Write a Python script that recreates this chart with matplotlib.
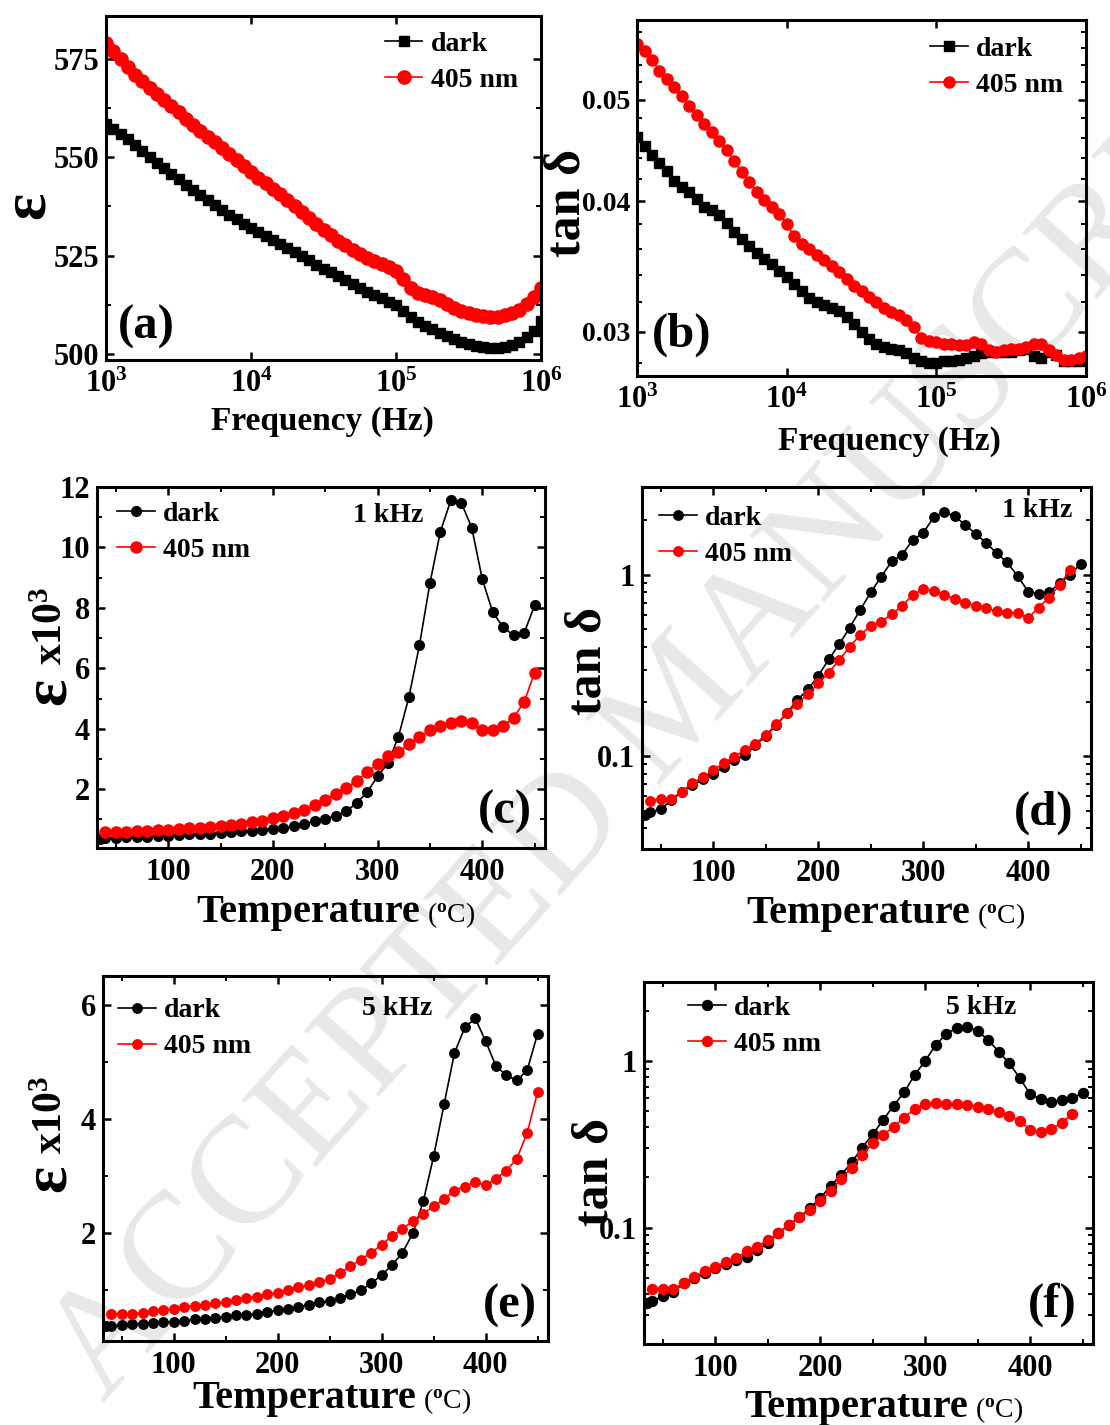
import numpy as np
import matplotlib
matplotlib.use('Agg')
import matplotlib.pyplot as plt
from matplotlib.ticker import FixedLocator, NullFormatter, NullLocator, MultipleLocator, LogLocator

plt.rcParams['font.family'] = ['Liberation Serif', 'DejaVu Serif']
plt.rcParams['font.weight'] = 'bold'
plt.rcParams['mathtext.fontset'] = 'custom'
plt.rcParams['mathtext.rm'] = 'Liberation Serif:bold'
plt.rcParams['mathtext.bf'] = 'Liberation Serif:bold'
plt.rcParams['mathtext.it'] = 'Liberation Serif:bold:italic'

# ---- frequency sweep (a), (b): 10^3 .. 10^6 Hz, 20 points per decade
log_f = np.round(np.arange(3.0, 6.0001, 0.05), 2)
freq = 10 ** log_f

eps_f_dark = [558.5, 557.2, 555.8, 554.5, 553.1, 551.6, 550.1, 548.6, 547.2, 545.8,
              544.4, 543.0, 541.6, 540.3, 539.0, 537.8, 536.6, 535.4, 534.2, 533.1,
              532.0, 531.0, 530.0, 528.9, 527.9, 526.9, 525.9, 524.8, 523.8, 522.7,
              521.7, 520.7, 519.7, 518.7, 517.7, 516.7, 515.7, 514.9, 514.1, 513.3,
              512.4, 511.0, 509.4, 508.2, 507.2, 506.3, 505.4, 504.6, 503.8, 503.1,
              502.5, 502.0, 501.7, 501.5, 501.5, 501.8, 502.3, 503.1, 504.2, 505.8, 508.5]
eps_f_405 = [579.0, 576.8, 574.8, 572.8, 570.9, 569.2, 567.6, 566.0, 564.4, 562.9,
             561.3, 559.7, 558.2, 556.7, 555.2, 553.7, 552.2, 550.8, 549.3, 547.8,
             546.3, 544.8, 543.3, 541.9, 540.5, 539.1, 537.6, 536.1, 534.6, 533.1,
             531.6, 530.2, 528.8, 527.6, 526.5, 525.5, 524.5, 523.6, 522.8, 522.0,
             521.0, 519.0, 516.8, 515.6, 514.9, 514.4, 513.6, 512.6, 511.6, 510.8,
             510.3, 510.0, 509.7, 509.5, 509.5, 509.9, 510.4, 511.2, 512.6, 514.4, 516.8]
tan_f_dark = [0.0461, 0.0452, 0.0443, 0.0435, 0.0427, 0.0418, 0.0413, 0.0408, 0.0402, 0.0395,
              0.0392, 0.0388, 0.0381, 0.0374, 0.0368, 0.0362, 0.0357, 0.0352, 0.0348, 0.0343,
              0.0338, 0.0333, 0.0328, 0.0323, 0.0320, 0.0318, 0.0316, 0.0314, 0.0310, 0.0305,
              0.0300, 0.0295, 0.0292, 0.0290, 0.0289, 0.0288, 0.0286, 0.0283, 0.0281, 0.0280,
              0.0280, 0.0281, 0.0281, 0.0282, 0.0283, 0.0284, 0.0286, 0.0287, 0.0287, 0.0287,
              0.0287, 0.0288, 0.0289, 0.0284, 0.0283, 0.0287, 0.0285, 0.0281, 0.0281, 0.0281, 0.0282]
tan_f_405 = [0.0566, 0.0557, 0.0546, 0.0533, 0.0523, 0.0514, 0.0504, 0.0493, 0.0483, 0.0474,
             0.0466, 0.0457, 0.0448, 0.0437, 0.0426, 0.0417, 0.0408, 0.0401, 0.0395, 0.0389,
             0.0380, 0.0370, 0.0364, 0.0360, 0.0355, 0.0351, 0.0347, 0.0342, 0.0337, 0.0332,
             0.0328, 0.0324, 0.0320, 0.0316, 0.0313, 0.0311, 0.0308, 0.0303, 0.0296, 0.0294,
             0.0293, 0.0292, 0.0292, 0.0291, 0.0291, 0.0293, 0.0292, 0.0288, 0.0287, 0.0288,
             0.0289, 0.0289, 0.0290, 0.0292, 0.0292, 0.0288, 0.0285, 0.0282, 0.0282, 0.0283, 0.0284]

# ---- temperature runs (c)-(f)
T_dark = [35] + list(range(40, 451, 10))
T_405 = list(range(40, 451, 10))
T_405_short = list(range(40, 441, 10))

eps_1k_dark = [0.36, 0.38, 0.39, 0.40, 0.42, 0.43, 0.45, 0.46, 0.48, 0.50, 0.51, 0.53, 0.55,
               0.57, 0.60, 0.62, 0.65, 0.68, 0.72, 0.78, 0.86, 0.93, 1.01, 1.12, 1.26, 1.54,
               1.89, 2.42, 2.86, 3.74, 5.05, 6.76, 8.81, 10.52, 11.56, 11.48, 10.66, 8.96,
               7.86, 7.36, 7.09, 7.16, 8.08]
eps_1k_405 = [0.57, 0.58, 0.59, 0.60, 0.62, 0.64, 0.66, 0.68, 0.70, 0.72, 0.75, 0.78, 0.81,
              0.85, 0.90, 0.96, 1.03, 1.10, 1.20, 1.32, 1.46, 1.64, 1.85, 2.04, 2.28, 2.56,
              2.84, 3.08, 3.22, 3.50, 3.74, 3.95, 4.10, 4.20, 4.25, 4.20, 3.97, 3.95, 4.08,
              4.37, 4.88, 5.85]
tan_1k_dark = [0.047, 0.049, 0.051, 0.057, 0.0635, 0.069, 0.0743, 0.080, 0.0873, 0.095, 0.101,
               0.115, 0.129, 0.148, 0.172, 0.204, 0.233, 0.277, 0.342, 0.414, 0.512, 0.641,
               0.799, 0.979, 1.185, 1.29, 1.56, 1.70, 2.08, 2.22, 2.10, 1.89, 1.685, 1.50,
               1.32, 1.17, 0.987, 0.809, 0.785, 0.80, 0.90, 1.0, 1.15]
tan_1k_405 = [0.0567, 0.0583, 0.0583, 0.0635, 0.0713, 0.0762, 0.0838, 0.0919, 0.0991, 0.108,
              0.117, 0.1306, 0.150, 0.172, 0.194, 0.219, 0.252, 0.289, 0.339, 0.402, 0.466,
              0.523, 0.552, 0.606, 0.674, 0.775, 0.833, 0.816, 0.775, 0.734, 0.703, 0.674,
              0.654, 0.633, 0.619, 0.614, 0.576, 0.660, 0.749, 0.881, 1.057]
eps_5k_dark = [0.37, 0.37, 0.385, 0.40, 0.40, 0.42, 0.43, 0.44, 0.46, 0.48, 0.49, 0.51, 0.53,
               0.55, 0.56, 0.58, 0.61, 0.64, 0.67, 0.70, 0.74, 0.78, 0.80, 0.85, 0.92, 0.99,
               1.11, 1.26, 1.43, 1.65, 1.99, 2.55, 3.34, 4.25, 5.15, 5.60, 5.76, 5.36, 4.92,
               4.76, 4.67, 4.85, 5.49]
eps_5k_405 = [0.58, 0.58, 0.58, 0.60, 0.62, 0.64, 0.67, 0.70, 0.72, 0.74, 0.76, 0.79, 0.82,
              0.85, 0.88, 0.92, 0.95, 0.99, 1.04, 1.08, 1.13, 1.19, 1.29, 1.41, 1.53, 1.65,
              1.79, 1.94, 2.06, 2.21, 2.33, 2.47, 2.59, 2.74, 2.81, 2.89, 2.83, 2.95, 3.09,
              3.30, 3.75, 4.47]
tan_5k_dark = [0.0352, 0.0363, 0.0386, 0.041, 0.0464, 0.0497, 0.0532, 0.057, 0.0603, 0.064,
               0.067, 0.0735, 0.0805, 0.0925, 0.1038, 0.115, 0.1306, 0.15, 0.1786, 0.207,
               0.2466, 0.302, 0.363, 0.4426, 0.5395, 0.648, 0.824, 1.0, 1.247, 1.445, 1.585,
               1.607, 1.51, 1.337, 1.138, 0.968, 0.794, 0.631, 0.5916, 0.565, 0.583, 0.597, 0.640]
tan_5k_405 = [0.0429, 0.0429, 0.0429, 0.0464, 0.0508, 0.0545, 0.0583, 0.0625, 0.066, 0.0724,
              0.0769, 0.0843, 0.0925, 0.1038, 0.115, 0.1276, 0.1445, 0.166, 0.196, 0.229,
              0.273, 0.3206, 0.36, 0.4036, 0.457, 0.513, 0.5495, 0.557, 0.5495, 0.5495,
              0.5445, 0.532, 0.515, 0.4966, 0.47, 0.4365, 0.3855, 0.373, 0.391, 0.4227, 0.4786]

RED = '#ff0000'


def style(ax):
    ax.set_facecolor('none')
    for s in ax.spines.values():
        s.set_linewidth(2.2)
    ax.tick_params(which='both', direction='in', top=True, right=True, labelsize=22)
    ax.tick_params(which='major', length=6, width=1.8)
    ax.tick_params(which='minor', length=3.5, width=1.4)
    ax.tick_params(axis='x', pad=7)
    ax.tick_params(axis='y', pad=5)


def legend(ax, x, y):
    ax.legend(loc='upper left', bbox_to_anchor=(x, y), frameon=False, fontsize=20,
              handlelength=1.35, handletextpad=0.3, labelspacing=0.38,
              borderpad=0, borderaxespad=0, numpoints=1)


def temp_xlabel(ax, xr, yb):
    ax.text(xr, yb, 'Temperature', transform=ax.transAxes, ha='right', va='baseline', fontsize=29)
    ax.text(xr + 0.015, yb, r'($^{\mathrm{o}}$C)', transform=ax.transAxes, ha='left',
            va='baseline', fontsize=20, fontweight='normal')


def eps_ylabel(ax, x, y_eps, y_pow):
    ax.text(x, y_eps, 'ε', transform=ax.transAxes, rotation=90, ha='center', va='center', fontsize=46)
    ax.text(x + 0.005, y_pow, r'x10$^{3}$', transform=ax.transAxes, rotation=90,
            ha='center', va='center', fontsize=30)


def temp_axis(ax):
    ax.set_xlim(32, 460)
    ax.set_xticks([100, 200, 300, 400])
    ax.xaxis.set_minor_locator(MultipleLocator(50))


def log_tan_axis(ax, lo, hi):
    ax.set_yscale('log')
    ax.set_ylim(lo, hi)
    ax.yaxis.set_major_locator(FixedLocator([0.1, 1]))
    ax.set_yticklabels(['0.1', '1'])
    ax.yaxis.set_minor_locator(LogLocator(base=10, subs=np.arange(2, 10)))
    ax.yaxis.set_minor_formatter(NullFormatter())


fig = plt.figure(figsize=(11.1, 14.25), dpi=100)

fig.text(0.615, 0.505, 'ACCEPTED MANUSCRIPT', rotation=48, fontsize=110, color='#e8e8e8',
         ha='center', va='center', fontweight='normal', rotation_mode='anchor', zorder=-1)

freq_ticks = [1e3, 1e4, 1e5, 1e6]
freq_labels = [r'$10^{3}$', r'$10^{4}$', r'$10^{5}$', r'$10^{6}$']

# (a) permittivity vs frequency
ax = fig.add_axes([0.0955, 0.7474, 0.3919, 0.2414])
style(ax)
ax.plot(freq, eps_f_dark, '-s', color='k', ms=6.5, lw=1.2, label='dark')
ax.plot(freq, eps_f_405, '-o', color=RED, ms=9.5, lw=1.2, label='405 nm')
ax.set_xscale('log')
ax.set_xlim(1e3, 1e6)
ax.set_ylim(498.5, 585.8)
ax.set_xticks(freq_ticks)
ax.set_xticklabels(freq_labels)
ax.xaxis.set_minor_locator(NullLocator())
ax.set_yticks([500, 525, 550, 575])
ax.yaxis.set_minor_locator(MultipleLocator(12.5))
legend(ax, 0.641, 0.955)
ax.text(0.028, 0.096, '(a)', transform=ax.transAxes, ha='left', va='center', fontsize=35)
ax.text(-0.178, 0.45, 'ε', transform=ax.transAxes, rotation=90, ha='center', va='center', fontsize=46)
ax.text(0.497, -0.203, 'Frequency (Hz)', transform=ax.transAxes, ha='center', va='baseline', fontsize=24)

# (b) loss tangent vs frequency
ax = fig.add_axes([0.5739, 0.7361, 0.4045, 0.2498])
style(ax)
ax.plot(freq, tan_f_dark, '-s', color='k', ms=6.5, lw=1.2, label='dark')
ax.plot(freq, tan_f_405, '-o', color=RED, ms=8, lw=1.2, label='405 nm')
ax.set_xscale('log')
ax.set_yscale('log')
ax.set_xlim(1e3, 1e6)
ax.set_ylim(0.0272, 0.0596)
ax.set_xticks(freq_ticks)
ax.set_xticklabels(freq_labels)
ax.xaxis.set_minor_locator(NullLocator())
ax.yaxis.set_major_locator(FixedLocator([0.03, 0.04, 0.05]))
ax.set_yticklabels(['0.03', '0.04', '0.05'])
ax.yaxis.set_minor_locator(FixedLocator(np.arange(0.028, 0.0595, 0.002)))
ax.yaxis.set_minor_formatter(NullFormatter())
ax.tick_params(axis='y', labelsize=20)
legend(ax, 0.653, 0.955)
ax.text(0.033, 0.115, '(b)', transform=ax.transAxes, ha='left', va='center', fontsize=35)
ax.text(-0.154, 0.486, 'tan δ', transform=ax.transAxes, rotation=90, ha='center', va='center', fontsize=36)
ax.text(0.563, -0.208, 'Frequency (Hz)', transform=ax.transAxes, ha='center', va='baseline', fontsize=24)

# (c) permittivity vs temperature, 1 kHz
ax = fig.add_axes([0.0874, 0.4049, 0.4036, 0.2533])
style(ax)
ax.plot(T_dark, eps_1k_dark, '-o', color='k', ms=7, lw=1.2, label='dark')
ax.plot(T_405, eps_1k_405, '-o', color=RED, ms=8, lw=1.2, label='405 nm')
temp_axis(ax)
ax.set_ylim(0.05, 12)
ax.set_yticks([2, 4, 6, 8, 10, 12])
ax.yaxis.set_minor_locator(MultipleLocator(1))
legend(ax, 0.045, 0.96)
ax.text(0.65, 0.92, '1 kHz', transform=ax.transAxes, ha='center', va='center', fontsize=20)
ax.text(0.97, 0.10, '(c)', transform=ax.transAxes, ha='right', va='center', fontsize=35)
eps_ylabel(ax, -0.105, 0.435, 0.615)
temp_xlabel(ax, 0.721, -0.205)

# (d) loss tangent vs temperature, 1 kHz
ax = fig.add_axes([0.5784, 0.4042, 0.4045, 0.2540])
style(ax)
ax.plot(T_dark, tan_1k_dark, '-o', color='k', ms=6.8, lw=1.2, label='dark')
ax.plot(T_405_short, tan_1k_405, '-o', color=RED, ms=6.8, lw=1.2, label='405 nm')
temp_axis(ax)
log_tan_axis(ax, 0.0307, 3.05)
legend(ax, 0.038, 0.95)
ax.text(0.88, 0.934, '1 kHz', transform=ax.transAxes, ha='center', va='center', fontsize=20)
ax.text(0.96, 0.10, '(d)', transform=ax.transAxes, ha='right', va='center', fontsize=35)
ax.text(-0.12, 0.52, 'tan δ', transform=ax.transAxes, rotation=90, ha='center', va='center', fontsize=36)
temp_xlabel(ax, 0.730, -0.204)

# (e) permittivity vs temperature, 5 kHz
ax = fig.add_axes([0.0928, 0.0589, 0.4009, 0.2561])
style(ax)
ax.plot(T_dark, eps_5k_dark, '-o', color='k', ms=6.8, lw=1.2, label='dark')
ax.plot(T_405, eps_5k_405, '-o', color=RED, ms=6.8, lw=1.2, label='405 nm')
temp_axis(ax)
ax.set_ylim(0.1, 6.5)
ax.set_yticks([2, 4, 6])
ax.yaxis.set_minor_locator(MultipleLocator(1))
legend(ax, 0.034, 0.94)
ax.text(0.66, 0.912, '5 kHz', transform=ax.transAxes, ha='center', va='center', fontsize=20)
ax.text(0.975, 0.096, '(e)', transform=ax.transAxes, ha='right', va='center', fontsize=35)
eps_ylabel(ax, -0.12, 0.445, 0.62)
temp_xlabel(ax, 0.703, -0.184)

# (f) loss tangent vs temperature, 5 kHz
ax = fig.add_axes([0.5802, 0.0568, 0.4045, 0.2540])
style(ax)
ax.plot(T_dark, tan_5k_dark, '-o', color='k', ms=7.2, lw=1.2, label='dark')
ax.plot(T_405_short, tan_5k_405, '-o', color=RED, ms=7.2, lw=1.2, label='405 nm')
temp_axis(ax)
log_tan_axis(ax, 0.020, 2.97)
legend(ax, 0.098, 0.963)
ax.text(0.75, 0.93, '5 kHz', transform=ax.transAxes, ha='center', va='center', fontsize=20)
ax.text(0.964, 0.108, '(f)', transform=ax.transAxes, ha='right', va='center', fontsize=35)
ax.text(-0.109, 0.475, 'tan δ', transform=ax.transAxes, rotation=90, ha='center', va='center', fontsize=36)
temp_xlabel(ax, 0.722, -0.202)

fig.savefig('out.png', dpi=100)
